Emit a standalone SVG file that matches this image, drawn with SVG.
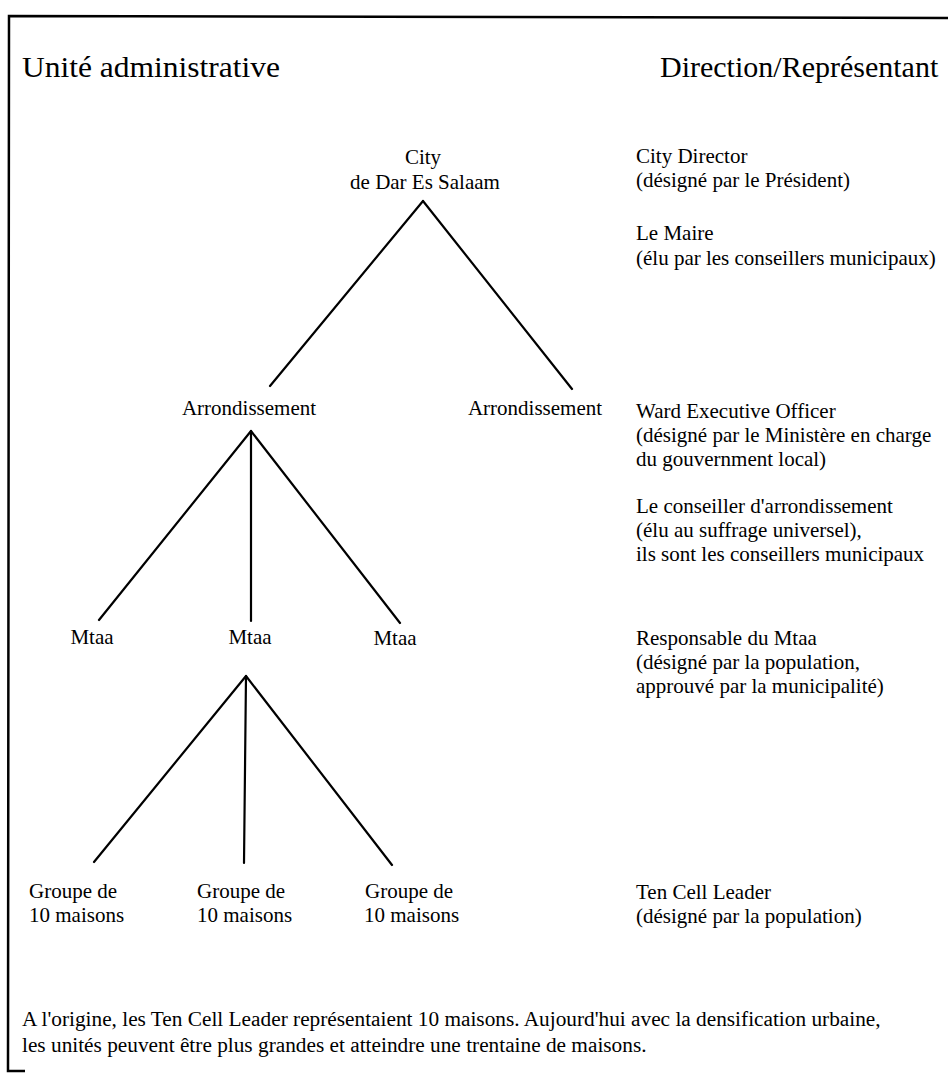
<svg xmlns="http://www.w3.org/2000/svg" width="948" height="1074" viewBox="0 0 948 1074">
<style>
text { font-family: "Liberation Serif", "Times New Roman", serif; fill: #000; }
.h { font-size: 30px; }
.t { font-size: 21px; }
.f { font-size: 21.3px; }
.c { text-anchor: middle; }
.ln { stroke: #000; stroke-width: 2.2; fill: none; stroke-linecap: round; }
.frame { stroke: #000; stroke-width: 2.5; fill: none; }
</style>
<rect width="948" height="1074" fill="#fff"/>
<path class="frame" d="M 948 18 L 9 16 L 8 1071 L 25 1071"/>
<g id="headers">
<text class="h" x="22" y="77" textLength="258" lengthAdjust="spacingAndGlyphs">Unité administrative</text>
<text class="h" x="660" y="77">Direction/Représentant</text>
</g>
<g id="connectors">
<line class="ln" x1="423" y1="201" x2="270" y2="386"/>
<line class="ln" x1="423" y1="201" x2="572" y2="389"/>
<line class="ln" x1="251" y1="431" x2="99" y2="620"/>
<line class="ln" x1="251" y1="431" x2="251" y2="621"/>
<line class="ln" x1="251" y1="431" x2="400" y2="623"/>
<line class="ln" x1="246" y1="676" x2="94" y2="862"/>
<line class="ln" x1="246" y1="676" x2="244" y2="863"/>
<line class="ln" x1="246" y1="676" x2="392" y2="865"/>
</g>
<g id="node-city">
<text class="t c" x="423" y="164">City</text>
<text class="t c" x="425" y="189">de Dar Es Salaam</text>
</g>
<g id="node-arr1"><text class="t c" x="249" y="415">Arrondissement</text></g>
<g id="node-arr2"><text class="t c" x="535" y="415">Arrondissement</text></g>
<g id="node-mtaa1"><text class="t c" x="92" y="644">Mtaa</text></g>
<g id="node-mtaa2"><text class="t c" x="250" y="644">Mtaa</text></g>
<g id="node-mtaa3"><text class="t c" x="395" y="645">Mtaa</text></g>
<g id="node-g1"><text class="t" x="29" y="898">Groupe de</text><text class="t" x="29" y="922">10 maisons</text></g>
<g id="node-g2"><text class="t" x="197" y="898">Groupe de</text><text class="t" x="197" y="922">10 maisons</text></g>
<g id="node-g3"><text class="t" x="365" y="898">Groupe de</text><text class="t" x="364" y="922">10 maisons</text></g>
<g id="right-city">
<text class="t" x="636" y="163">City Director</text>
<text class="t" x="636" y="187">(désigné par le Président)</text>
<text class="t" x="636" y="240">Le Maire</text>
<text class="t" x="636" y="265">(élu par les conseillers municipaux)</text>
</g>
<g id="right-arr">
<text class="t" x="636" y="418">Ward Executive Officer</text>
<text class="t" x="636" y="442">(désigné par le Ministère en charge</text>
<text class="t" x="636" y="466">du gouvernment local)</text>
<text class="t" x="636" y="513">Le conseiller d'arrondissement</text>
<text class="t" x="636" y="537">(élu au suffrage universel),</text>
<text class="t" x="636" y="561">ils sont les conseillers municipaux</text>
</g>
<g id="right-mtaa">
<text class="t" x="636" y="645">Responsable du Mtaa</text>
<text class="t" x="636" y="669">(désigné par la population,</text>
<text class="t" x="636" y="693">approuvé par la municipalité)</text>
</g>
<g id="right-group">
<text class="t" x="636" y="899">Ten Cell Leader</text>
<text class="t" x="636" y="923">(désigné par la population)</text>
</g>
<g id="footnote">
<text class="f" x="22" y="1026">A l'origine, les Ten Cell Leader représentaient 10 maisons. Aujourd'hui avec la densification urbaine,</text>
<text class="f" x="22" y="1052">les unités peuvent être plus grandes et atteindre une trentaine de maisons.</text>
</g>
</svg>
